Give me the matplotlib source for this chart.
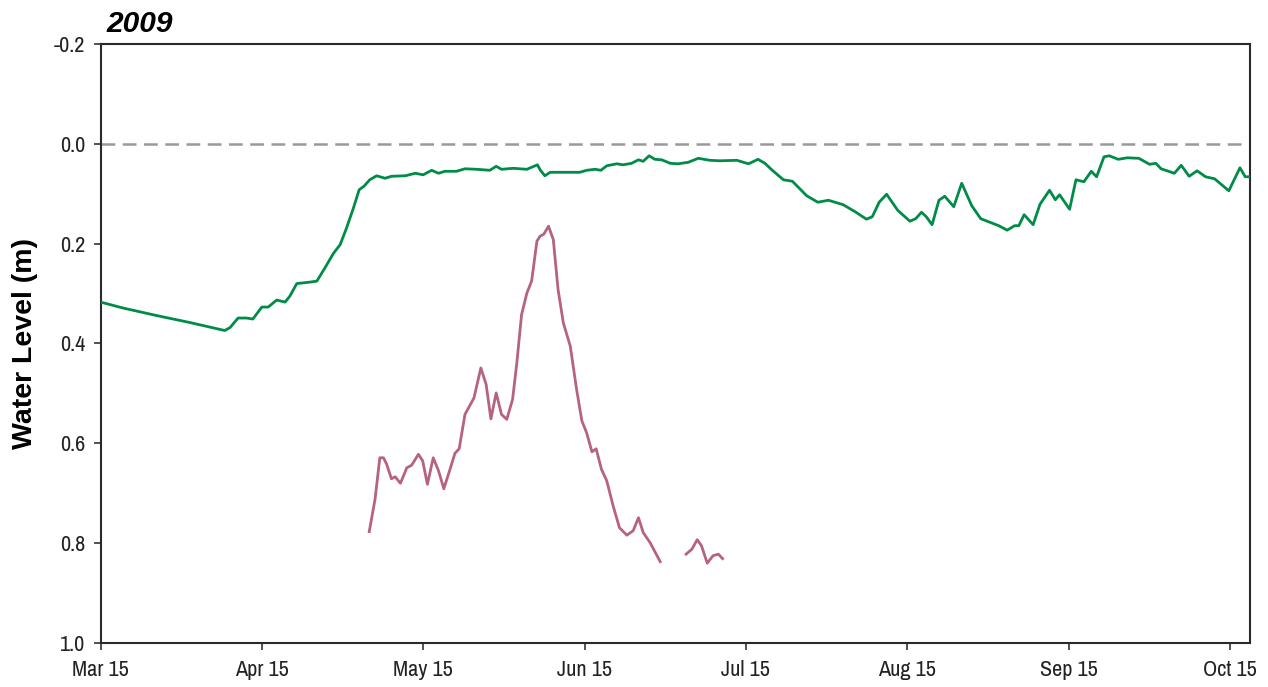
import matplotlib
matplotlib.use('Agg')
import matplotlib.pyplot as plt
from matplotlib import font_manager
import numpy as np

# days since Mar 15, water level (m, positive = below surface)
wl_day = [0, 4.3, 10.6, 16.9, 23.5, 24.5, 26.0, 27.6, 28.8, 30.5, 31.7, 33.3, 34.9, 35.8,
          37.1, 39.6, 40.9, 42.4, 44.0, 45.3, 46.5, 47.8, 48.9, 49.8, 50.9, 52.2, 53.8,
          55.0, 57.6, 59.5, 61.0, 62.6, 63.9, 65.1, 67.3, 68.9, 71.1, 73.6, 74.8, 75.8,
          78.0, 80.6, 82.6, 83.1, 84.0, 85.0, 86.9, 88.8, 90.6, 91.9, 93.5, 94.6, 95.7,
          97.6, 98.8, 100.4, 101.7, 102.6, 103.7, 104.8, 106.1, 107.7, 109.2, 111.1,
          113.0, 115.2, 117.1, 120.3, 122.5, 124.3, 125.6, 127.0, 129.1, 130.8, 133.5,
          135.6, 137.6, 140.4, 142.8, 144.8, 145.9, 147.2, 148.6, 150.7, 153.0, 154.1,
          155.2, 156.1, 157.2, 158.5, 159.6, 161.3, 162.8, 164.7, 166.4, 168.1, 169.8,
          171.4, 172.8, 173.6, 174.6, 176.3, 177.6, 179.4, 180.5, 181.3, 183.2, 184.4,
          185.9, 187.3, 188.3, 189.7, 190.7, 192.4, 194.1, 196.3, 198.3, 199.5, 200.5,
          203.0, 204.3, 205.8, 207.3, 208.9, 210.6, 213.3, 215.4, 216.4, 217.4]
wl_main = [0.317, 0.329, 0.344, 0.358, 0.374, 0.368, 0.349, 0.349, 0.351, 0.327, 0.327,
           0.313, 0.317, 0.305, 0.280, 0.277, 0.275, 0.249, 0.220, 0.202, 0.169, 0.129,
           0.092, 0.085, 0.072, 0.064, 0.069, 0.065, 0.064, 0.059, 0.062, 0.053, 0.059,
           0.055, 0.055, 0.050, 0.051, 0.053, 0.045, 0.051, 0.049, 0.051, 0.042, 0.052,
           0.064, 0.057, 0.057, 0.057, 0.057, 0.053, 0.051, 0.053, 0.044, 0.040, 0.042,
           0.039, 0.032, 0.035, 0.024, 0.031, 0.032, 0.039, 0.040, 0.037, 0.029, 0.033,
           0.034, 0.033, 0.040, 0.031, 0.039, 0.053, 0.072, 0.075, 0.104, 0.117, 0.113,
           0.122, 0.137, 0.151, 0.146, 0.117, 0.101, 0.133, 0.155, 0.150, 0.137, 0.146,
           0.162, 0.113, 0.105, 0.126, 0.079, 0.124, 0.150, 0.157, 0.164, 0.173, 0.164,
           0.164, 0.142, 0.162, 0.121, 0.093, 0.112, 0.102, 0.131, 0.072, 0.076, 0.055,
           0.066, 0.026, 0.024, 0.031, 0.028, 0.029, 0.041, 0.039, 0.050, 0.059, 0.043,
           0.065, 0.054, 0.066, 0.070, 0.094, 0.048, 0.066, 0.066]

# second well, two recorded stretches
w2_day_a = [50.8, 51.9, 52.8, 53.5, 54.1, 55.0, 55.7, 56.7, 57.9, 58.8, 60.1, 60.9, 61.8,
            62.9, 63.9, 64.9, 66.1, 67.0, 67.8, 68.9, 70.6, 71.9, 72.9, 73.8, 74.8, 75.8,
            76.8, 77.9, 78.7, 79.6, 80.6, 81.5, 82.5, 83.1, 83.8, 84.7, 85.6, 86.5, 87.5,
            88.8, 90.0, 91.0, 91.9, 92.9, 93.7, 94.7, 95.7, 96.9, 98.1, 99.5, 100.7, 101.7,
            102.6, 103.9, 105.8]
w2_a = [0.777, 0.712, 0.629, 0.629, 0.642, 0.671, 0.667, 0.680, 0.649, 0.644, 0.622, 0.635,
        0.682, 0.629, 0.655, 0.691, 0.651, 0.620, 0.611, 0.542, 0.509, 0.449, 0.482, 0.551,
        0.499, 0.542, 0.552, 0.512, 0.439, 0.342, 0.299, 0.275, 0.195, 0.185, 0.181, 0.165,
        0.192, 0.292, 0.359, 0.405, 0.492, 0.555, 0.579, 0.617, 0.611, 0.652, 0.675, 0.725,
        0.769, 0.784, 0.775, 0.749, 0.779, 0.799, 0.837]
w2_day_b = [110.7, 111.8, 112.8, 113.6, 114.7, 115.8, 116.8, 117.6]
w2_b = [0.822, 0.812, 0.793, 0.805, 0.840, 0.825, 0.822, 0.831]

tick_labels = ['Mar 15', 'Apr 15', 'May 15', 'Jun 15', 'Jul 15', 'Aug 15', 'Sep 15', 'Oct 15']
tick_days = np.arange(len(tick_labels)) * 30.5


def condensed_font():
    # prefer a narrow sans for the tick labels, if one is installed
    fonts = font_manager.fontManager.ttflist
    for key in ['Narrow', 'Condensed']:
        for f in fonts:
            if key in f.name and f.weight in (400, 'normal') and f.style == 'normal':
                return font_manager.FontProperties(fname=f.fname)
    for f in fonts:
        if f.stretch in ('condensed', 'semi-condensed') and f.style == 'normal' \
                and f.weight in (400, 'normal'):
            return font_manager.FontProperties(fname=f.fname)
    return font_manager.FontProperties(family='Liberation Sans')


tick_font = condensed_font()
tick_font.set_size(16)

green = '#008c48'
pink = '#b5637f'

fig = plt.figure(figsize=(12.68, 6.87), dpi=100)
ax = fig.add_axes([100.5 / 1268, 1 - 643 / 687, 1149.5 / 1268, 599 / 687])

ax.axhline(0, color='#999999', lw=1.8, ls=(0, (5.5, 3)), zorder=1)
ax.plot(wl_day, wl_main, color=green, lw=2.0, zorder=3, solid_joinstyle='round')
ax.plot(w2_day_a, w2_a, color=pink, lw=2.0, zorder=2, solid_joinstyle='round')
ax.plot(w2_day_b, w2_b, color=pink, lw=2.0, zorder=2, solid_joinstyle='round')

ax.set_xlim(0, 217.3)
ax.set_ylim(1.0, -0.2)
ax.set_yticks([-0.2, 0.0, 0.2, 0.4, 0.6, 0.8, 1.0])
ax.set_yticklabels(['-0.2', '0.0', '0.2', '0.4', '0.6', '0.8', '1.0'])
ax.set_xticks(tick_days)
ax.set_xticklabels(tick_labels)

for lab in ax.get_xticklabels() + ax.get_yticklabels():
    lab.set_fontproperties(tick_font)
    lab.set_color('#222222')

ax.tick_params(axis='x', length=5, width=1.2, color='#333333', pad=7)
ax.tick_params(axis='y', length=5, width=1.2, color='#333333', pad=6)
for sp in ax.spines.values():
    sp.set_linewidth(1.5)
    sp.set_color('#2a2a2a')

ax.set_ylabel('Water Level (m)', fontsize=20.5, fontweight='bold', family='Liberation Sans')
ax.yaxis.set_label_coords(-0.054, 0.5)
ax.text(0.005, 1.01, '2009', transform=ax.transAxes, fontsize=21.5, fontweight='bold',
        fontstyle='italic', family='Liberation Sans', ha='left', va='bottom')

fig.savefig('out.png', dpi=100)
